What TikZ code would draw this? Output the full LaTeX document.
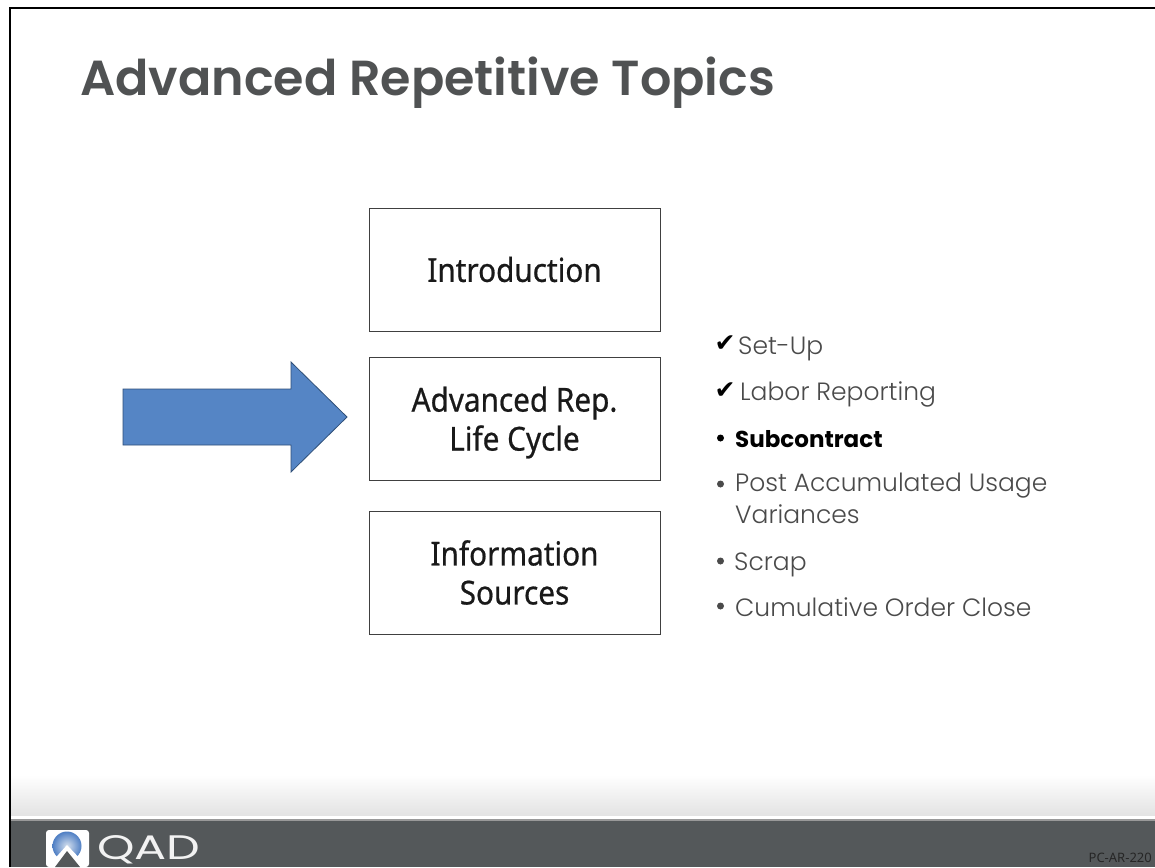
\documentclass[tikz,border=0pt]{standalone}
\usepackage{fontspec}
\setmainfont{Noto Sans}[FakeStretch=0.9,FakeBold=0.6]
\newfontfamily\plainfont{Noto Sans}
\newfontfamily\titlefont{Poppins SemiBold}
\newfontfamily\logofont{Poppins}[FakeStretch=1.4]
\newfontfamily\boldlist{Poppins}
\newfontfamily\listfont{Poppins Light}
\newfontfamily\symfont{DejaVu Sans}
\definecolor{titlegray}{HTML}{505253}
\definecolor{bargray}{HTML}{54585A}
\definecolor{listgray}{HTML}{4A4A4A}
\definecolor{arrowblue}{HTML}{5585C5}
\definecolor{arrowedge}{HTML}{2F4F78}
\definecolor{globe}{HTML}{4F7FC4}
\definecolor{globelight}{HTML}{D5E0EE}
\tikzset{
  x=1pt,y=-1pt,
  stagebox/.style={draw=black!75,line width=0.9pt,fill=white,minimum width=291pt,minimum height=123pt,inner sep=0pt},
  boxtext/.style={align=center,inner sep=0pt,font=\fontsize{33}{39}\selectfont,text=black!90},
  item/.style={anchor=west,inner sep=0pt,font=\listfont\fontsize{25}{31.5}\selectfont,text=listgray,align=left},
  tick/.style={anchor=center,inner sep=0pt,text=black,font=\symfont\fontsize{25}{27}\selectfont},
  bullet/.style={circle,inner sep=0pt,minimum size=7pt,fill=listgray}
}
\begin{document}
\begin{tikzpicture}
\useasboundingbox (0,0) rectangle (1155,867);
\fill[white] (0,0) rectangle (1155,867);
\shade[top color=white,bottom color=black!11] (10,775) rectangle (1155,815);
\fill[bargray] (10,820) rectangle (1155,867);
\fill[black!40] (10,818.5) rectangle (1155,820.5);
\draw[black,line width=2pt] (10,867) -- (10,8) -- (1155,8);
\node[anchor=base west,inner sep=0pt,font=\titlefont\fontsize{49.2}{56}\selectfont,text=titlegray] (title) at (80,95) {Advanced Repetitive Topics};
\node[stagebox,label={[boxtext]center:{Introduction}}] (intro) at (514.5,269.5) {};
\node[stagebox,label={[boxtext,yshift=-4pt]center:{Advanced Rep.\\Life Cycle}}] (life) at (514.5,418.5) {};
\node[stagebox,label={[boxtext]center:{Information\\Sources}}] (info) at (514.5,572.5) {};
\draw[arrowedge,fill=arrowblue,line width=0.8pt] (123,389) -- (291,389) -- (291,362) -- (347,417) -- (291,472) -- (291,445) -- (123,445) -- cycle;
\node[tick] (c1) at (725,344) {✔};
\node[tick] (c2) at (725,391) {✔};
\node[item] (t1) at (738,349) {Set-Up};
\node[item] (t2) at (740,394) {Labor Reporting};
\node[bullet,fill=black] (b3) at (720.5,438) {};
\node[item,font=\boldlist\fontsize{23}{28}\selectfont\bfseries,text=black] (t3) at (735,439) {Subcontract};
\node[bullet] (b4) at (720.5,484) {};
\node[item,anchor=north west] (t4) at (735,473) {Post Accumulated Usage\\Variances};
\node[bullet] (b5) at (720.5,561) {};
\node[item] (t5) at (734,565) {Scrap};
\node[bullet] (b6) at (720.5,606) {};
\node[item] (t6) at (735,607) {Cumulative Order Close};
\node[anchor=east,inner sep=0pt,font=\plainfont\fontsize{13}{15}\selectfont,text=black!85] (code) at (1152,858) {PC-AR-220};
\fill[white,rounded corners=3pt] (46,830) -- (89,830) -- (89,867) -- (46,867) -- cycle;
\shade[inner color=globelight,outer color=globe] (67,846) circle (14.5pt);
\fill[white] (67,845) -- (50,864) -- (50,867) -- (85,867) -- (85,864) -- cycle;
\fill[bargray] (67,851) -- (55,867) -- (80,867) -- cycle;
\node[anchor=base west,inner sep=0pt,font=\logofont\fontsize{34}{40}\selectfont,text=white!95!black] (qad) at (97,859) {QAD};
\end{tikzpicture}
\end{document}
